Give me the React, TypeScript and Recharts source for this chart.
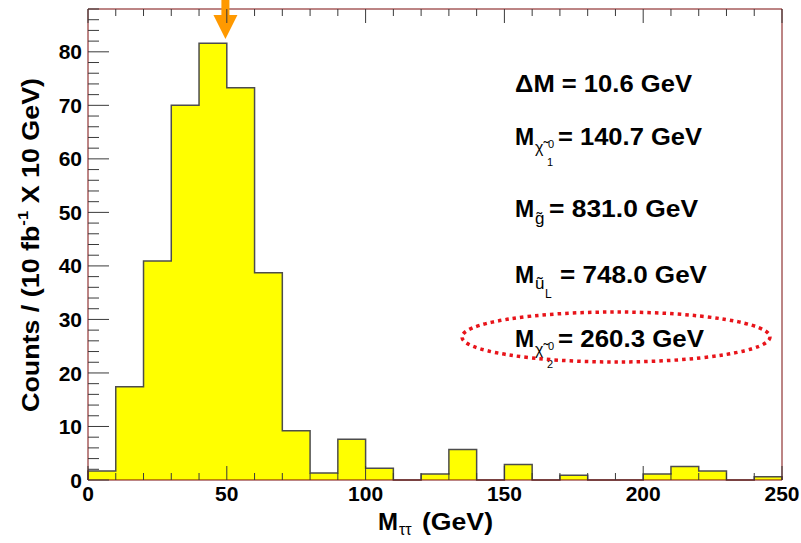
import { ComposedChart, Area, XAxis, YAxis, ReferenceDot } from 'recharts';

// bin edges of the M_tautau histogram (GeV)
const BIN_EDGES = [
  0, 10, 20, 30, 40, 50, 60, 70, 80, 90, 100, 110, 120, 130, 140, 150, 160,
  170, 180, 190, 200, 210, 220, 230, 240, 250,
];
// counts per bin
const COUNTS = [
  1.7, 17.4, 40.9, 70.0, 81.6, 73.3, 38.7, 9.2, 1.3, 7.6, 2.2, 0, 1.1, 5.7, 0,
  2.9, 0, 0.9, 0, 0, 1.1, 2.5, 1.7, 0, 0.6,
];
const X_MAJOR = [0, 50, 100, 150, 200, 250];
const Y_MAJOR = [0, 10, 20, 30, 40, 50, 60, 70, 80];
const Y_TICKS = Array.from({ length: 45 }, (_, i) => i * 2);
const ARROW_AT = 49.5;

const AXIS = '#7a0a0a';
const TICK = '#3a3a3a';
const FONT = '"Liberation Sans", Arial, Helvetica, sans-serif';

// step outline: close the first and last bins down to zero
const steps = [
  { edge: BIN_EDGES[0], count: 0 },
  ...COUNTS.map((c, i) => ({ edge: BIN_EDGES[i], count: c })),
  { edge: BIN_EDGES[BIN_EDGES.length - 1], count: COUNTS[COUNTS.length - 1] },
  { edge: BIN_EDGES[BIN_EDGES.length - 1], count: 0 },
];

const BottomTick = ({ x, y, payload }: any) => {
  const major = X_MAJOR.includes(payload.value);
  return (
    <g>
      <line x1={x} x2={x} y1={y} y2={y - (major ? 14 : 7)} stroke={TICK} />
      {major && (
        <text x={x} y={y + 21} textAnchor="middle" fontSize={21} fontWeight="bold" fill="#000" fontFamily={FONT}>
          {payload.value}
        </text>
      )}
    </g>
  );
};

const TopTick = ({ x, y, payload }: any) => {
  const major = X_MAJOR.includes(payload.value);
  return <line x1={x} x2={x} y1={y} y2={y + (major ? 14 : 7)} stroke={TICK} />;
};

const LeftTick = ({ x, y, payload }: any) => {
  const major = Y_MAJOR.includes(payload.value);
  return (
    <g>
      <line x1={x} x2={x + (major ? 21 : 11)} y1={y} y2={y} stroke={TICK} />
      {major && (
        <text x={x - 6} y={y} dy="0.36em" textAnchor="end" fontSize={21} fontWeight="bold" fill="#000" fontFamily={FONT}>
          {payload.value}
        </text>
      )}
    </g>
  );
};

const RightTick = ({ x, y, payload }: any) => {
  const major = Y_MAJOR.includes(payload.value);
  return <line x1={x} x2={x - (major ? 21 : 10)} y1={y} y2={y} stroke={TICK} />;
};

const Arrow = ({ cx, cy }: any) => (
  <g fill="#ff9900">
    <rect x={cx - 4} y={cy - 9} width={8} height={15} />
    <polygon points={`${cx - 12},${cy + 6} ${cx + 12},${cy + 6} ${cx},${cy + 30}`} />
  </g>
);

const bold = { fontFamily: FONT, fontWeight: 700 } as const;

// tilde-chi with superscript 0 and a subscript index, sitting after an "M"
const Chi = ({ base, idx }: { base: number; idx: string }) => (
  <g fontFamily={FONT}>
    <text x={535} y={base + 8} fontSize={16}>χ̃</text>
    <text x={548} y={base + 3} fontSize={11}>0</text>
    <text x={547} y={base + 21} fontSize={11}>{idx}</text>
  </g>
);

export default function App() {
  return (
    <div style={{ position: 'absolute', left: 0, top: 0, width: 801, height: 543, background: '#fff', fontFamily: FONT }}>
      <ComposedChart
        width={801}
        height={543}
        data={steps}
        margin={{ top: 0, right: 0, bottom: 0, left: 0 }}
      >
        <XAxis
          xAxisId="bottom"
          dataKey="edge"
          type="number"
          domain={[0, 250]}
          ticks={BIN_EDGES}
          interval={0}
          height={63}
          tickSize={0}
          tickMargin={0}
          tickLine={false}
          axisLine={{ stroke: AXIS }}
          tick={(p: any) => <BottomTick {...p} />}
        />
        <XAxis
          xAxisId="top"
          orientation="top"
          dataKey="edge"
          type="number"
          domain={[0, 250]}
          ticks={BIN_EDGES}
          interval={0}
          height={9}
          tickSize={0}
          tickMargin={0}
          tickLine={false}
          axisLine={{ stroke: AXIS }}
          tick={(p: any) => <TopTick {...p} />}
        />
        <YAxis
          yAxisId="left"
          type="number"
          domain={[0, 88]}
          ticks={Y_TICKS}
          interval={0}
          width={88}
          tickSize={0}
          tickMargin={0}
          tickLine={false}
          axisLine={{ stroke: AXIS }}
          tick={(p: any) => <LeftTick {...p} />}
        />
        <YAxis
          yAxisId="right"
          orientation="right"
          type="number"
          domain={[0, 88]}
          ticks={Y_TICKS}
          interval={0}
          width={19}
          tickSize={0}
          tickMargin={0}
          tickLine={false}
          axisLine={{ stroke: AXIS }}
          tick={(p: any) => <RightTick {...p} />}
        />
        <Area
          xAxisId="bottom"
          yAxisId="left"
          type="stepAfter"
          dataKey="count"
          fill="#ffff00"
          fillOpacity={1}
          stroke="#4d4d4d"
          strokeWidth={1.5}
          dot={false}
          activeDot={false}
          isAnimationActive={false}
        />
        <ReferenceDot
          xAxisId="bottom"
          yAxisId="left"
          x={ARROW_AT}
          y={88}
          ifOverflow="visible"
          shape={(p: any) => <Arrow {...p} />}
        />
      </ComposedChart>

      {/* titles and annotations */}
      <svg width={801} height={543} style={{ position: 'absolute', left: 0, top: 0, pointerEvents: 'none' }}>
        <text
          x={30}
          y={245}
          transform="rotate(-90 30 245)"
          textAnchor="middle"
          dominantBaseline="central"
          fontSize={24}
          textLength={334}
          lengthAdjust="spacingAndGlyphs"
          style={bold}
        >
          Counts / (10 fb<tspan dy={-8} fontSize={15}>-1</tspan>
          <tspan dy={8}> X 10 GeV)</tspan>
        </text>

        <text x={378} y={530} fontSize={24} style={bold}>M</text>
        <text x={399} y={535} fontSize={16} fontFamily={FONT}>ττ</text>
        <text x={422} y={530} fontSize={24} textLength={71} lengthAdjust="spacingAndGlyphs" style={bold}>(GeV)</text>

        <text x={515} y={92} fontSize={23} textLength={177} lengthAdjust="spacingAndGlyphs" style={bold}>ΔM = 10.6 GeV</text>

        <text x={515} y={145} fontSize={23} style={bold}>M</text>
        <Chi base={145} idx="1" />
        <text x={558} y={145} fontSize={23} textLength={144} lengthAdjust="spacingAndGlyphs" style={bold}>= 140.7 GeV</text>

        <text x={515} y={217} fontSize={23} style={bold}>M</text>
        <text x={535} y={224} fontSize={17} fontFamily={FONT}>g̃</text>
        <text x={549} y={217} fontSize={23} textLength={149} lengthAdjust="spacingAndGlyphs" style={bold}>= 831.0 GeV</text>

        <text x={515} y={283} fontSize={23} style={bold}>M</text>
        <text x={535} y={289} fontSize={17} fontFamily={FONT}>ũ</text>
        <text x={545} y={298} fontSize={12} fontFamily={FONT}>L</text>
        <text x={560} y={283} fontSize={23} textLength={147} lengthAdjust="spacingAndGlyphs" style={bold}>= 748.0 GeV</text>

        <text x={515} y={347} fontSize={23} style={bold}>M</text>
        <Chi base={347} idx="2" />
        <text x={558} y={347} fontSize={23} textLength={146} lengthAdjust="spacingAndGlyphs" style={bold}>= 260.3 GeV</text>

        <ellipse cx={616} cy={337} rx={154} ry={25} fill="none" stroke="#e8141a" strokeWidth={3.5} strokeDasharray="3.5 4" />
      </svg>
    </div>
  );
}
